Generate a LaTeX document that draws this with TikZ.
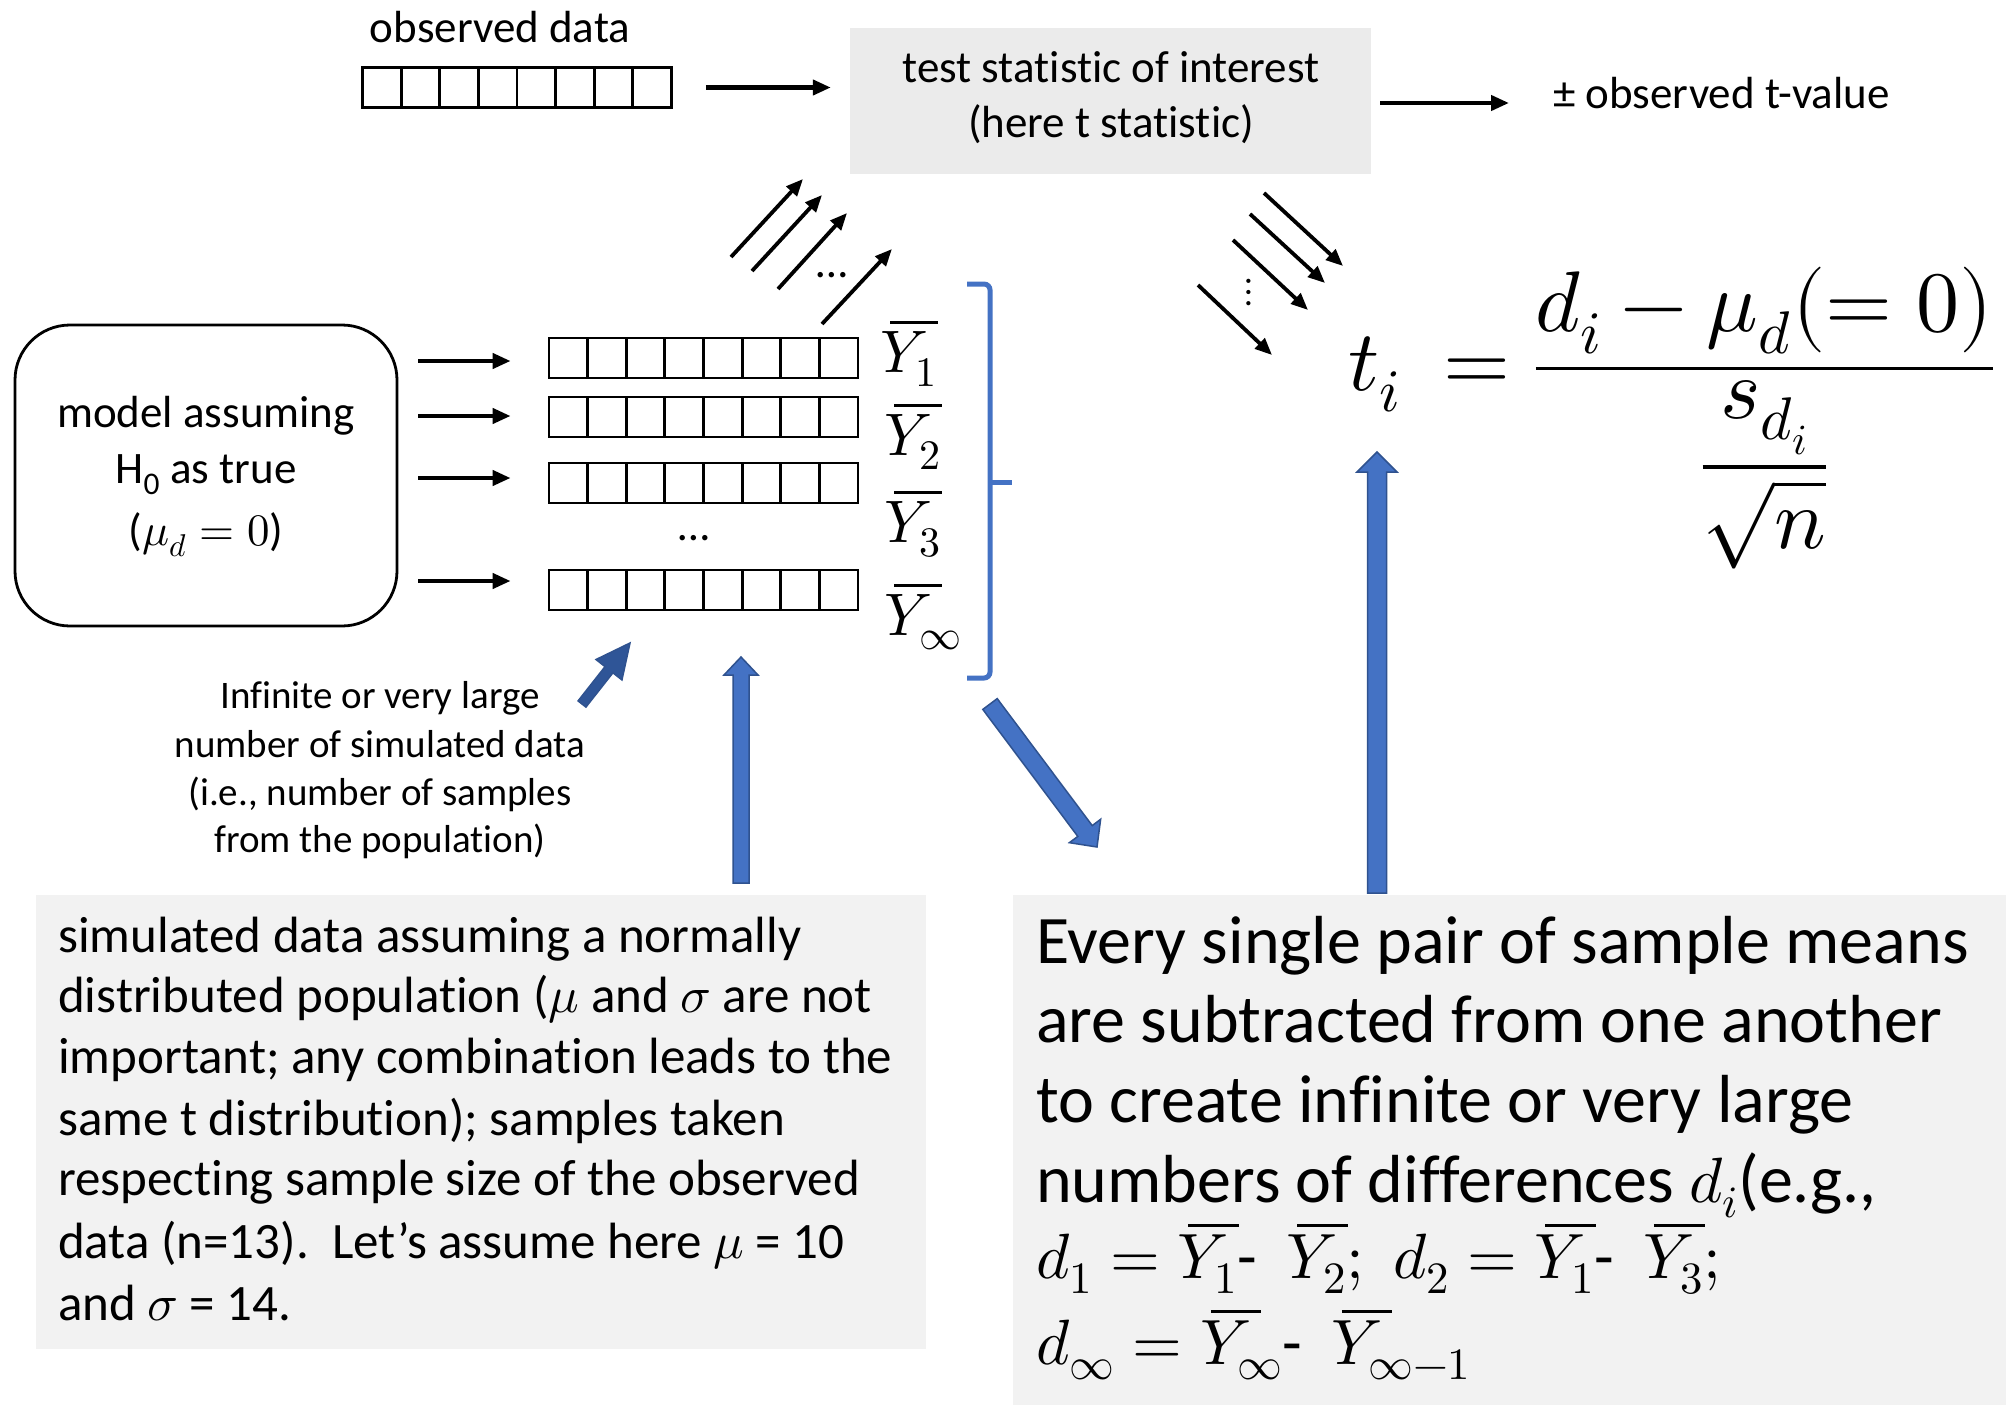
\documentclass[tikz,border=0pt]{standalone}
\usepackage{amsmath}
\usepackage{unicode-math}
\setmainfont{Carlito}[Ligatures={TeX,NoCommon}]
\usetikzlibrary{arrows.meta,calc}
\definecolor{boxgray}{HTML}{F2F2F2}
\definecolor{testgray}{HTML}{EBEBEB}
\definecolor{accblue}{HTML}{4472C4}
\definecolor{accborder}{HTML}{2F528F}
\definecolor{darkblue}{HTML}{2F5597}
\newcommand\fsM{\fontsize{45}{54}\selectfont}
\newcommand\fsS{\fontsize{39}{47}\selectfont}
\newcommand\fsL{\fontsize{51}{61}\selectfont}
\newcommand\fsXL{\fontsize{68}{82}\selectfont}
\newcommand\fsXM{\fontsize{64}{78}\selectfont}
\newcommand\fsY{\fontsize{60}{72}\selectfont}
\newcommand\fsF{\fontsize{86}{100}\selectfont}
\newcommand\fsV{\fontsize{40}{48}\selectfont}
\newcommand\Yb[1]{\rlap{$\mkern3mu\overline{\phantom{Y}}$}Y_{#1}}
% block arrow: tail, tip, shaft half width, head half width, head length (all with units), style
\newcommand\blockarr[6]{%
  \coordinate (tmpH) at ($(#2)!#5!(#1)$);
  \filldraw[#6] ($(#1)!#3!90:(#2)$) -- ($(tmpH)!#3!90:(#2)$) -- ($(tmpH)!#4!90:(#2)$) -- (#2)
     -- ($(tmpH)!#4!-90:(#2)$) -- ($(tmpH)!#3!-90:(#2)$) -- ($(#1)!#3!-90:(#2)$) -- cycle;}
\tikzset{
  cellrow/.style={draw, line width=2.8, minimum width=309, minimum height=40, inner sep=0,
    path picture={\foreach \k in {1,...,7}{\draw[line width=2.8]
      ($(path picture bounding box.north west)!\k/8!(path picture bounding box.north east)$) --
      ($(path picture bounding box.south west)!\k/8!(path picture bounding box.south east)$);}}},
  blk/.style={line width=4.2, -{Triangle[length=18pt,width=15pt]}},
  diag/.style={line width=3.8, -{Triangle[length=17pt,width=14pt]}},
  txt/.style={inner sep=0, anchor=base},
  ltxt/.style={inner sep=0, anchor=base west},
  bluearr/.style={fill=accblue, draw=accborder, line width=1.5},
  darkarr/.style={fill=darkblue, draw=accborder, line width=1.5},
  bracket/.style={draw=accblue, line width=5, rounded corners=6},
  panel/.style={inner sep=0, draw=none}
}
\begin{document}
\begin{tikzpicture}[x=1pt,y=-1pt]
\useasboundingbox (0,0) rectangle (2016,1405);
\fill[white] (0,0) rectangle (2016,1405);

% ---------- top row ----------
\node[txt, font=\fsM] (obslab) at (500,43) {observed data};
\node[cellrow] (obs) at (517,87.5) {};
\node[panel, fill=testgray, minimum width=521, minimum height=146] (test) at (1110.5,101) {};
\node[txt, font=\fsM] (test1) at (1111,82) {test statistic of interest};
\node[txt, font=\fsM] (test2) at (1111,137) {(here t statistic)};
\node[ltxt, font=\fsM] (pm) at (1553,108) {± observed t-value};
\draw[blk, shorten <=33, shorten >=19] (obs.east) -- (obs.east -| test.west);
\coordinate (tp) at (1380,103);
\draw[blk, shorten >=44] (tp) -- (tp -| pm.west);

% ---------- model box ----------
\node[draw, line width=2.8, rounded corners=55, minimum width=382, minimum height=301, inner sep=0] (model) at (206,475.5) {};
\node[txt, font=\fsM] (mt1) at (206,427) {model assuming};
\node[txt, font=\fsM] (mt2) at (206,483) {H\textsubscript{0} as true};
\node[txt, font=\fsM] (mt3) at (206,545) {($\mu_d = 0$)};

% ---------- simulated rows ----------
\node[cellrow] (r1) at (703.5,358) {};
\node[cellrow] (r2) at (703.5,417) {};
\node[cellrow] (r3) at (703.5,483) {};
\node[cellrow] (r4) at (703.5,590) {};
\node[txt, font=\fsM] (rdots) at (694,540) {…};
\coordinate (m1) at (418,361);
\coordinate (m2) at (418,416);
\coordinate (m3) at (418,478);
\coordinate (m4) at (418,581);
\draw[blk, shorten >=37] (m1) -- (m1 -| r1.west);
\draw[blk, shorten >=37] (m2) -- (m2 -| r2.west);
\draw[blk, shorten >=37] (m3) -- (m3 -| r3.west);
\draw[blk, shorten >=37] (m4) -- (m4 -| r4.west);

\node[ltxt, font=\fsY] (y1) at (880,372) {$\Yb{1}$};
\node[ltxt, font=\fsY] (y2) at (884,455) {$\Yb{2}$};
\node[ltxt, font=\fsY] (y3) at (884,542) {$\Yb{3}$};
\node[ltxt, font=\fsY] (y4) at (884,635) {$\Yb{\infty}$};

% bracket
\coordinate (bt) at (967,284);
\coordinate (bb) at (967,678);
\coordinate (bm) at (990,482);
\draw[bracket] (bt) -- (bt -| bm) -- (bb -| bm) -- (bb);
\draw[draw=accblue, line width=5] (bm) -- ++(22,0);

% ---------- arrows rows -> test ----------
\coordinate (u1a) at (731,257); \coordinate (u1b) at (803,179);
\coordinate (u2a) at (752,271); \coordinate (u2b) at (822,195);
\coordinate (u3a) at (778,289); \coordinate (u3b) at (847,213);
\coordinate (u4a) at (822,324); \coordinate (u4b) at (892,249);
\draw[diag] (u1a) -- (u1b);
\draw[diag] (u2a) -- (u2b);
\draw[diag] (u3a) -- (u3b);
\draw[diag] (u4a) -- (u4b);
\node[txt, font=\fsM] (udots) at (832,277) {…};

% ---------- arrows test -> formula ----------
\coordinate (d1a) at (1264,193); \coordinate (d1b) at (1343,266);
\coordinate (d2a) at (1250,214); \coordinate (d2b) at (1325,283);
\coordinate (d3a) at (1233,240); \coordinate (d3b) at (1308,310);
\coordinate (d4a) at (1198,285); \coordinate (d4b) at (1272,355);
\draw[diag] (d1a) -- (d1b);
\draw[diag] (d2a) -- (d2b);
\draw[diag] (d3a) -- (d3b);
\draw[diag] (d4a) -- (d4b);
\node[inner sep=0, font=\fsV] (vdots) at (1249,292) {$\vdots$};

% formula
\node[ltxt, font=\fsF] (formula) at (1348,390)
  {$t_i\ = \dfrac{d_i-\mu_d(=0)}{\dfrac{s_{d_i}}{\sqrt{n}}}$};

% ---------- annotation ----------
\node[txt, font=\fsS] (inf1) at (380,708) {Infinite or very large};
\node[txt, font=\fsS] (inf2) at (380,757) {number of simulated data};
\node[txt, font=\fsS] (inf3) at (380,805) {(i.e., number of samples};
\node[txt, font=\fsS] (inf4) at (380,852) {from the population)};

% ---------- bottom boxes ----------
\node[panel, fill=boxgray, minimum width=890, minimum height=454] (bl) at (481,1122) {};
\node[ltxt, font=\fsL] (bl1) at (58,952) {simulated data assuming a normally};
\node[ltxt, font=\fsL] (bl2) at (58,1012) {distributed population ($\mu$ and $\sigma$ are not};
\node[ltxt, font=\fsL] (bl3) at (58,1073) {important; any combination leads to the};
\node[ltxt, font=\fsL] (bl4) at (58,1135) {same t distribution); samples taken};
\node[ltxt, font=\fsL] (bl5) at (58,1195) {respecting sample size of the observed};
\node[ltxt, font=\fsL] (bl6) at (58,1258) {data (n=13).\ \ Let’s assume here $\mu$ = 10};
\node[ltxt, font=\fsL] (bl7) at (58,1320) {and $\sigma$ = 14.};

\node[panel, fill=boxgray, minimum width=993, minimum height=510] (br) at (1509.5,1150) {};
\node[ltxt, font=\fsXL] (br1) at (1036,963) {Every single pair of sample means};
\node[ltxt, font=\fsXL] (br2) at (1036,1042) {are subtracted from one another};
\node[ltxt, font=\fsXL] (br3) at (1036,1122) {to create infinite or very large};
\node[ltxt, font=\fsXL] (br4) at (1036,1202) {numbers of differences {\fsXM$d_i$}(e.g.,};
\node[ltxt, font=\fsXM] (br5) at (1036,1278) {$d_1=\Yb{1}$-\ \ $\Yb{2};$\ \ $d_2=\Yb{1}$-\ \ $\Yb{3};$};
\node[ltxt, font=\fsXM] (br6) at (1036,1364) {$d_\infty=\Yb{\infty}$-\ \ $\Yb{\infty-1}$};

% ---------- block arrows ----------
\coordinate (ba1t) at (582,704); \coordinate (ba1h) at (630,643);
\blockarr{ba1t}{ba1h}{5pt}{16.5pt}{34pt}{darkarr}
\coordinate (ba2t) at (741,883); \coordinate (ba2h) at (741,657);
\blockarr{ba2t}{ba2h}{8pt}{17pt}{18pt}{bluearr}
\coordinate (ba3t) at (1377,893); \coordinate (ba3h) at (1377,452);
\blockarr{ba3t}{ba3h}{9.5pt}{20pt}{20pt}{bluearr}
\coordinate (ba4t) at (990,704); \coordinate (ba4h) at (1097,847);
\blockarr{ba4t}{ba4h}{9pt}{19.5pt}{20pt}{bluearr}
\end{tikzpicture}
\end{document}
